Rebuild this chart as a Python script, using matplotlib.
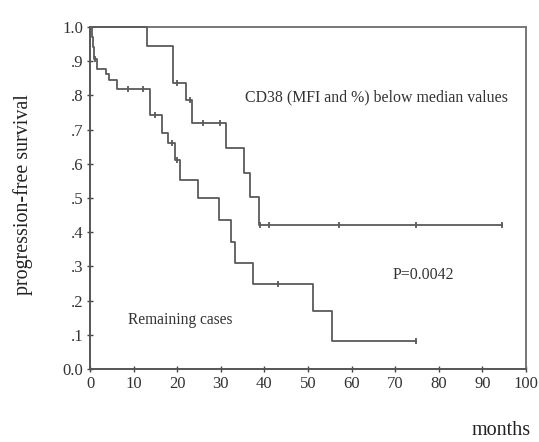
#!/usr/bin/env python3
"""Kaplan-Meier style progression-free survival chart (CD38 below median vs remaining)."""

import matplotlib

matplotlib.use("Agg")
import matplotlib.pyplot as plt
import numpy as np

# step curve: survival level from each time on (months)
cd38_times = [0, 13.1, 19.0, 22.1, 23.3, 31.1, 35.2, 36.8, 38.7, 94.5]
cd38_surv = [1.0, 0.944, 0.836, 0.786, 0.719, 0.646, 0.573, 0.503, 0.420, 0.420]
cd38_censored = [19.9, 22.9, 25.9, 29.7, 38.9, 41.0, 57.0, 74.8, 94.5]

rem_times = [0, 0.4, 0.7, 1.0, 1.7, 3.6, 4.3, 6.2, 13.7, 16.4, 17.9, 19.6, 20.6,
             24.8, 29.5, 32.4, 33.3, 37.4, 51.2, 55.6, 74.8]
rem_surv = [1.0, 0.97, 0.94, 0.905, 0.878, 0.862, 0.845, 0.818, 0.743, 0.689, 0.660,
            0.611, 0.553, 0.499, 0.436, 0.372, 0.311, 0.250, 0.171, 0.083, 0.083]
rem_censored = [1.1, 8.7, 12.1, 14.9, 18.7, 20.0, 43.1, 74.8]

x_ticks = list(range(0, 101, 10))
y_ticks = [0.0, 0.1, 0.2, 0.3, 0.4, 0.5, 0.6, 0.7, 0.8, 0.9, 1.0]
y_ticklabels = ["0.0", ".1", ".2", ".3", ".4", ".5", ".6", ".7", ".8", ".9", "1.0"]

LINE = "#5a5a5a"
SERIF = "Liberation Serif"


def surv_at(times, surv, t):
    idx = np.searchsorted(times, t, side="right") - 1
    return np.asarray(surv)[idx]


def draw_curve(ax, times, surv, censored):
    ax.step(times, surv, where="post", color=LINE, lw=1.3, clip_on=False, zorder=3)
    ax.plot(censored, surv_at(times, surv, censored), ls="none", marker="|",
            ms=5, mew=1.3, color=LINE, clip_on=False, zorder=4)


def main():
    plt.rcParams["font.family"] = SERIF
    fig = plt.figure(figsize=(5.39, 4.42), dpi=100)
    ax = fig.add_axes([0.167, 0.165, 0.809, 0.774])

    draw_curve(ax, cd38_times, cd38_surv, cd38_censored)
    draw_curve(ax, rem_times, rem_surv, rem_censored)

    ax.set_xlim(0, 100)
    ax.set_ylim(0, 1.0)
    ax.set_xticks(x_ticks)
    ax.set_xticklabels([str(t) for t in x_ticks])
    ax.set_yticks(y_ticks)
    ax.set_yticklabels(y_ticklabels)
    ax.tick_params(direction="inout", length=4, width=1, color="#444",
                   labelsize=12, labelcolor="#333", pad=3)
    for side in ("left", "bottom"):
        ax.spines[side].set_color("#555")
        ax.spines[side].set_linewidth(1.4)
    for side in ("top", "right"):
        ax.spines[side].set_color("#777")
        ax.spines[side].set_linewidth(1.4)

    ax.text(35.5, 0.795, "CD38 (MFI and %) below median values", fontsize=11.4,
            color="#333", va="center")
    ax.text(69.3, 0.275, "P=0.0042", fontsize=11.4, color="#333", va="center")
    ax.text(8.7, 0.143, "Remaining cases", fontsize=11.2, color="#333", va="center")

    fig.text(0.042, 0.56, "progression-free survival", rotation=90, fontsize=14.4,
             color="#222", ha="center", va="center")
    fig.text(0.985, 0.025, "months", fontsize=14.5, color="#222", ha="right", va="center")

    fig.savefig("out.png", dpi=100)
    plt.close(fig)


if __name__ == "__main__":
    main()
